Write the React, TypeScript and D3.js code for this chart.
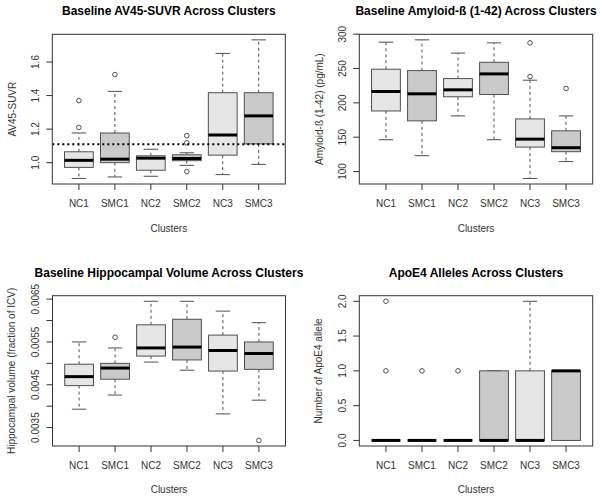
import React from "react";
import * as d3 from "d3";

const clusters = ["NC1", "SMC1", "NC2", "SMC2", "NC3", "SMC3"];
const groupType = ["NC", "SMC", "NC", "SMC", "NC", "SMC"];

// Panel 1: AV45-SUVR
const suvrLower = [0.906, 0.915, 0.919, 0.984, 0.929, 0.99];
const suvrQ1 = [0.972, 1.0, 0.955, 1.012, 1.045, 1.112];
const suvrMedian = [1.014, 1.021, 1.027, 1.025, 1.165, 1.279];
const suvrQ3 = [1.065, 1.177, 1.041, 1.047, 1.417, 1.417];
const suvrUpper = [1.177, 1.425, 1.08, 1.059, 1.651, 1.732];
const suvrOutliers = [[1.37, 1.21], [1.525], [], [1.161, 1.118, 0.947], [], []];
const suvrCutoff = 1.11;
const suvrTicks = [1.0, 1.2, 1.4, 1.6];
const suvrTickLabels = ["1.0", "1.2", "1.4", "1.6"];

// Panel 2: Amyloid-beta
const abLower = [146.3, 123.1, 181, 146.3, 89.9, 114.5];
const abQ1 = [188.2, 173.8, 208.9, 212.2, 135.6, 128.9];
const abMedian = [216.6, 213.2, 219, 242.2, 147.2, 134.7];
const abQ3 = [249, 247, 235.4, 259.1, 176.6, 159.3];
const abUpper = [288.4, 291.8, 272.5, 287.4, 233, 181];
const abOutliers = [[], [], [], [], [287.4, 238.3], [221]];
const abTicks = [100, 150, 200, 250, 300];
const abTickLabels = ["100", "150", "200", "250", "300"];

// Panel 3: Hippocampal volume
const hvLower = [0.00393, 0.00426, 0.00503, 0.00484, 0.00382, 0.00414];
const hvQ1 = [0.00448, 0.00463, 0.00517, 0.00508, 0.00482, 0.00486];
const hvMedian = [0.00469, 0.00489, 0.00536, 0.00538, 0.0053, 0.00523];
const hvQ3 = [0.00498, 0.005, 0.0059, 0.00603, 0.00566, 0.0055];
const hvUpper = [0.0055, 0.00536, 0.00645, 0.00645, 0.00622, 0.00595];
const hvOutliers = [[], [0.00561], [], [], [], [0.0032]];
const hvTicks = [0.0035, 0.004, 0.0045, 0.005, 0.0055, 0.006, 0.0065];
const hvTickLabels = ["0.0035", "", "0.0045", "", "0.0055", "", "0.0065"];

// Panel 4: ApoE4
const apoeLower = [0, 0, 0, 0, 0, 0];
const apoeQ1 = [0, 0, 0, 0, 0, 0];
const apoeMedian = [0, 0, 0, 0, 0, 1];
const apoeQ3 = [0, 0, 0, 1, 1, 1];
const apoeUpper = [0, 0, 0, 1, 2, 1];
const apoeOutliers = [[1, 2], [1], [1], [], [], []];
const apoeTicks = [0, 0.5, 1, 1.5, 2];
const apoeTickLabels = ["0.0", "0.5", "1.0", "1.5", "2.0"];

const FILL: Record<string, string> = { NC: "#e6e6e6", SMC: "#cacaca" };
const BORDER = "#505050";
const AXIS = "#333";
const FONT = "'Liberation Sans', Arial, sans-serif";

type PanelProps = {
  left: number;
  top: number;
  width: number;
  height: number;
  title: string;
  titleY: number;
  ylabel: string;
  ylabelX: number;
  tickLabelX: number;
  xTickLabelY: number;
  xLabelY: number;
  lower: number[];
  q1: number[];
  median: number[];
  q3: number[];
  upper: number[];
  outliers: number[][];
  ticks: number[];
  tickLabels: string[];
  refLine?: number;
};

function Panel(p: PanelProps) {
  const all = [
    ...p.lower,
    ...p.upper,
    ...p.q1,
    ...p.q3,
    ...p.outliers.flat(),
  ];
  const [mn, mx] = d3.extent(all) as [number, number];
  const pad = (mx - mn) * 0.04;
  const y = d3
    .scaleLinear()
    .domain([mn - pad, mx + pad])
    .range([p.top + p.height, p.top]);
  const x = d3
    .scaleLinear()
    .domain([0.5 - 0.24, 6.5 + 0.24])
    .range([p.left, p.left + p.width]);
  const unit = x(1) - x(0);
  const bw = unit * 0.8;
  const cw = bw / 2;
  const cx = p.left + p.width / 2;
  const cy = p.top + p.height / 2;
  const bottom = p.top + p.height;

  return (
    <g>
      <text
        x={cx}
        y={p.titleY}
        textAnchor="middle"
        fontSize={12}
        fontWeight="bold"
        fill="#000"
      >
        {p.title}
      </text>
      {clusters.map((c, i) => {
        const xc = x(i + 1);
        const fill = FILL[groupType[i]];
        return (
          <g key={c}>
            <line
              x1={xc}
              x2={xc}
              y1={y(p.q3[i])}
              y2={y(p.upper[i])}
              stroke={BORDER}
              strokeDasharray="3,3"
            />
            <line
              x1={xc}
              x2={xc}
              y1={y(p.q1[i])}
              y2={y(p.lower[i])}
              stroke={BORDER}
              strokeDasharray="3,3"
            />
            <line
              x1={xc - cw / 2}
              x2={xc + cw / 2}
              y1={y(p.upper[i])}
              y2={y(p.upper[i])}
              stroke={BORDER}
            />
            <line
              x1={xc - cw / 2}
              x2={xc + cw / 2}
              y1={y(p.lower[i])}
              y2={y(p.lower[i])}
              stroke={BORDER}
            />
            <rect
              x={xc - bw / 2}
              y={y(p.q3[i])}
              width={bw}
              height={Math.max(0, y(p.q1[i]) - y(p.q3[i]))}
              fill={fill}
              stroke={BORDER}
              strokeWidth={1}
            />
            <line
              x1={xc - bw / 2}
              x2={xc + bw / 2}
              y1={y(p.median[i])}
              y2={y(p.median[i])}
              stroke="#000"
              strokeWidth={3}
            />
            {p.outliers[i].map((o, j) => (
              <circle
                key={j}
                cx={xc}
                cy={y(o)}
                r={2.3}
                fill="none"
                stroke={BORDER}
                strokeWidth={1}
              />
            ))}
          </g>
        );
      })}
      {p.refLine !== undefined && (
        <line
          x1={p.left}
          x2={p.left + p.width}
          y1={y(p.refLine)}
          y2={y(p.refLine)}
          stroke="#000"
          strokeWidth={2}
          strokeDasharray="2,3"
        />
      )}
      <rect
        x={p.left}
        y={p.top}
        width={p.width}
        height={p.height}
        fill="none"
        stroke={AXIS}
        strokeWidth={1}
      />
      {/* y axis */}
      {p.ticks.map((t, i) => (
        <g key={"yt" + i}>
          <line
            x1={p.left - 6}
            x2={p.left}
            y1={y(t)}
            y2={y(t)}
            stroke={AXIS}
          />
          {p.tickLabels[i] && (
            <text
              transform={`translate(${p.tickLabelX},${y(t)}) rotate(-90)`}
              textAnchor="middle"
              fontSize={10}
              fill={AXIS}
            >
              {p.tickLabels[i]}
            </text>
          )}
        </g>
      ))}
      {/* x axis */}
      {clusters.map((c, i) => (
        <g key={"xt" + c}>
          <line
            x1={x(i + 1)}
            x2={x(i + 1)}
            y1={bottom}
            y2={bottom + 6}
            stroke={AXIS}
          />
          <text
            x={x(i + 1)}
            y={p.xTickLabelY}
            textAnchor="middle"
            fontSize={10}
            fill={AXIS}
          >
            {c}
          </text>
        </g>
      ))}
      <text
        x={cx}
        y={p.xLabelY}
        textAnchor="middle"
        fontSize={10}
        fill={AXIS}
      >
        Clusters
      </text>
      <text
        transform={`translate(${p.ylabelX},${cy}) rotate(-90)`}
        textAnchor="middle"
        fontSize={10}
        fill={AXIS}
      >
        {p.ylabel}
      </text>
    </g>
  );
}

export default function App() {
  return (
    <svg
      width={602}
      height={499}
      style={{ position: "absolute", left: 0, top: 0, background: "#fff" }}
      fontFamily={FONT}
    >
      <rect x={0} y={0} width={602} height={499} fill="#fff" />
      <Panel
        left={52.3}
        top={34.3}
        width={233}
        height={149.7}
        title="Baseline AV45-SUVR Across Clusters"
        titleY={15}
        ylabel="AV45-SUVR"
        ylabelX={15.5}
        tickLabelX={38.5}
        xTickLabelY={207}
        xLabelY={232}
        lower={suvrLower}
        q1={suvrQ1}
        median={suvrMedian}
        q3={suvrQ3}
        upper={suvrUpper}
        outliers={suvrOutliers}
        ticks={suvrTicks}
        tickLabels={suvrTickLabels}
        refLine={suvrCutoff}
      />
      <Panel
        left={359.3}
        top={34.3}
        width={233.4}
        height={149.7}
        title="Baseline Amyloid-ß (1-42) Across Clusters"
        titleY={15}
        ylabel="Amyloid-ß (1-42) (pg/mL)"
        ylabelX={322.5}
        tickLabelX={345.5}
        xTickLabelY={207}
        xLabelY={232}
        lower={abLower}
        q1={abQ1}
        median={abMedian}
        q3={abQ3}
        upper={abUpper}
        outliers={abOutliers}
        ticks={abTicks}
        tickLabels={abTickLabels}
      />
      <Panel
        left={52.5}
        top={295.7}
        width={233}
        height={150.3}
        title="Baseline Hippocampal Volume Across Clusters"
        titleY={277}
        ylabel="Hippocampal volume (fraction of ICV)"
        ylabelX={14.5}
        tickLabelX={39.3}
        xTickLabelY={469}
        xLabelY={492.5}
        lower={hvLower}
        q1={hvQ1}
        median={hvMedian}
        q3={hvQ3}
        upper={hvUpper}
        outliers={hvOutliers}
        ticks={hvTicks}
        tickLabels={hvTickLabels}
      />
      <Panel
        left={359.3}
        top={295.7}
        width={233.4}
        height={150.3}
        title="ApoE4 Alleles Across Clusters"
        titleY={277}
        ylabel="Number of ApoE4 allele"
        ylabelX={322}
        tickLabelX={345.5}
        xTickLabelY={469}
        xLabelY={492.5}
        lower={apoeLower}
        q1={apoeQ1}
        median={apoeMedian}
        q3={apoeQ3}
        upper={apoeUpper}
        outliers={apoeOutliers}
        ticks={apoeTicks}
        tickLabels={apoeTickLabels}
      />
    </svg>
  );
}
